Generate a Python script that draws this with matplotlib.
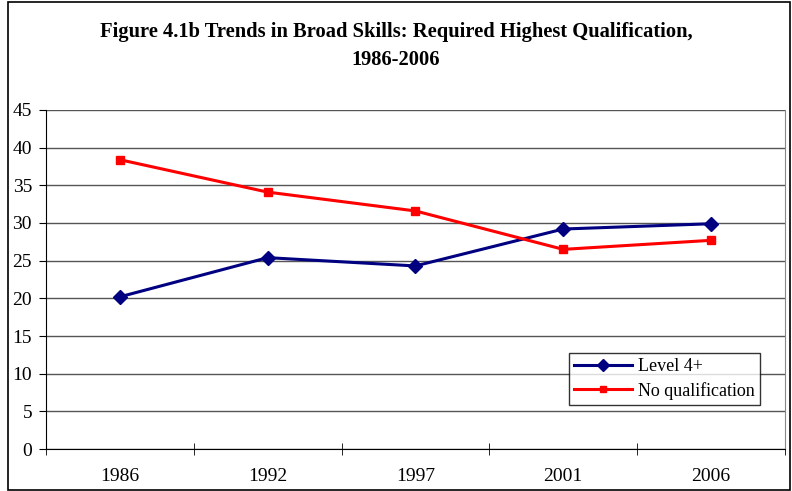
import matplotlib
matplotlib.use('Agg')
import matplotlib.pyplot as plt
from matplotlib.patches import Rectangle

# 데이터
years = ['1986', '1992', '1997', '2001', '2006']
level4 = [20.2, 25.4, 24.3, 29.2, 29.9]
no_qual = [38.4, 34.1, 31.6, 26.5, 27.7]

plt.rcParams['font.family'] = ['Liberation Serif', 'DejaVu Serif']

fig = plt.figure(figsize=(7.92, 4.91), dpi=100)
ax = fig.add_axes([0.058, 0.0855, 0.933, 0.6905])

# 바깥 테두리
fig.patches.append(Rectangle((8 / 792, 0.002), 782 / 792, 0.994, transform=fig.transFigure,
                             fill=False, edgecolor='black', linewidth=1.2))

x = list(range(len(years)))
ax.plot(x, level4, color='#000080', marker='D', markersize=7.5, linewidth=2.2, label='Level 4+')
ax.plot(x, no_qual, color='#FF0000', marker='s', markersize=6, linewidth=2.2, label='No qualification')

ax.set_xlim(-0.5, len(years) - 0.5)
ax.set_ylim(0, 45)
ax.set_yticks(range(0, 46, 5))
ax.set_xticks(x)
ax.set_xticklabels(years)
ax.set_xticks([i - 0.5 for i in range(len(years) + 1)], minor=True)
ax.tick_params(axis='x', which='major', length=0, pad=14, labelsize=14)
ax.tick_params(axis='x', which='minor', length=9, direction='inout', color='black')
ax.tick_params(axis='y', length=5, direction='out', labelsize=14, pad=5)

ax.yaxis.grid(True, color='#555555', linewidth=1)
ax.set_axisbelow(True)
ax.spines['top'].set_visible(False)
ax.spines['right'].set_color('#888888')
ax.spines['left'].set_color('black')
ax.spines['bottom'].set_color('black')

fig.text(0.5, 0.906, 'Figure 4.1b Trends in Broad Skills: Required Highest Qualification,\n1986-2006',
         ha='center', va='center', fontsize=14.8, fontweight='bold', linespacing=1.5)

leg = ax.legend(loc='lower right', bbox_to_anchor=(0.966, 0.13), fontsize=13, frameon=True,
                fancybox=False, edgecolor='black', handlelength=3.2, handletextpad=0.3,
                borderpad=0.3, labelspacing=0.35, markerscale=0.8, borderaxespad=0)
leg.get_frame().set_linewidth(1)

plt.savefig('out.png', dpi=100)
